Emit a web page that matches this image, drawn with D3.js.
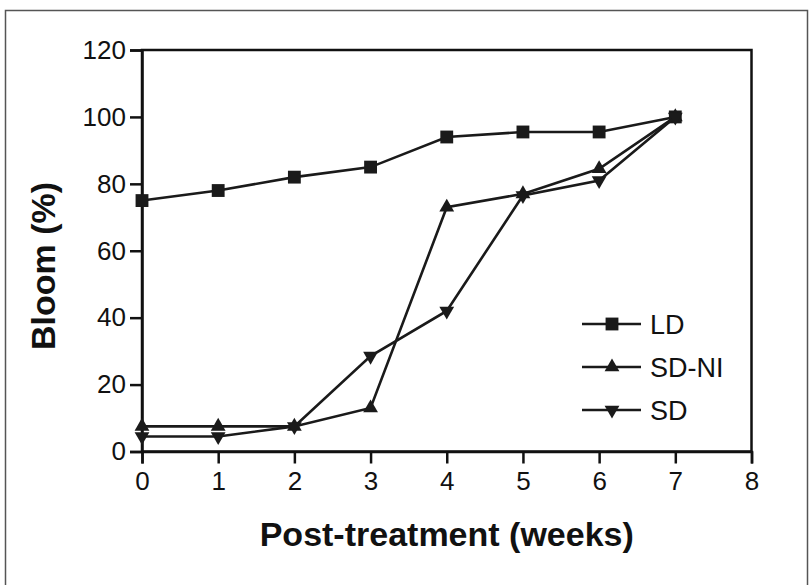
<!DOCTYPE html>
<html>
<head>
<meta charset="utf-8">
<script src="https://cdn.jsdelivr.net/npm/d3@7"></script>
<style>
  body { margin: 0; background: #fff; }
  svg { display: block; font-family: "Liberation Sans", Arial, sans-serif; }
</style>
</head>
<body>
<figure id="chart" style="margin:0"></figure>
<script>
// data
const weeks = [0, 1, 2, 3, 4, 5, 6, 7];
const ldValues = [75, 78, 82, 85, 94, 95.5, 95.5, 100];
const sdniValues = [7.5, 7.5, 7.5, 13, 73, 77, 84.5, 100];
const sdValues = [4.5, 4.5, 7.5, 28.5, 42, 76.5, 81, 100];
const seriesNames = ["LD", "SD-NI", "SD"];
const xTicks = [0, 1, 2, 3, 4, 5, 6, 7, 8];
const yTicks = [0, 20, 40, 60, 80, 100, 120];

const width = 812, height = 585;
const plotLeft = 142, plotRight = 751.5, plotTop = 50, plotBottom = 451.5;

const svg = d3.select("#chart").append("svg")
  .attr("width", width).attr("height", height);

// outer frame of the figure
svg.append("rect")
  .attr("x", 5.5).attr("y", 10.5)
  .attr("width", 802).attr("height", 580)
  .attr("fill", "none").attr("stroke", "#555").attr("stroke-width", 1.5);

const x = d3.scaleLinear().domain([0, 8]).range([plotLeft, plotRight]);
const y = d3.scaleLinear().domain([0, 120]).range([plotBottom, plotTop]);

// box around the plot
svg.append("rect")
  .attr("x", plotLeft).attr("y", plotTop)
  .attr("width", plotRight - plotLeft).attr("height", plotBottom - plotTop)
  .attr("fill", "none").attr("stroke", "#111").attr("stroke-width", 2.5);

const xAxis = svg.append("g")
  .attr("transform", "translate(0," + plotBottom + ")")
  .call(d3.axisBottom(x).tickValues(xTicks).tickSize(12).tickPadding(8).tickFormat(d3.format("d")));
const yAxis = svg.append("g")
  .attr("transform", "translate(" + plotLeft + ",0)")
  .call(d3.axisLeft(y).tickValues(yTicks).tickSize(12).tickPadding(4).tickFormat(d3.format("d")));

[xAxis, yAxis].forEach(g => {
  g.select(".domain").attr("stroke", "#111").attr("stroke-width", 2.5);
  g.selectAll(".tick line").attr("stroke", "#111").attr("stroke-width", 2.5);
  g.selectAll(".tick text")
    .attr("fill", "#111")
    .style("font-size", "26px")
    .style("font-family", "'Liberation Sans', Arial, sans-serif");
});

const series = [
  { name: seriesNames[0], values: ldValues, symbol: d3.symbolSquare, size: 165, rot: 0 },
  { name: seriesNames[1], values: sdniValues, symbol: d3.symbolTriangle, size: 95, rot: 0 },
  { name: seriesNames[2], values: sdValues, symbol: d3.symbolTriangle, size: 95, rot: 180 }
];

const line = d3.line()
  .x((d, i) => x(weeks[i]))
  .y(d => y(d));

series.forEach(s => {
  svg.append("path")
    .datum(s.values)
    .attr("d", line)
    .attr("fill", "none")
    .attr("stroke", "#1a1a1a")
    .attr("stroke-width", 2.6);

  svg.selectAll(null)
    .data(s.values)
    .enter()
    .append("path")
    .attr("d", d3.symbol().type(s.symbol).size(s.size))
    .attr("transform", (d, i) => "translate(" + x(weeks[i]) + "," + y(d) + ") rotate(" + s.rot + ")")
    .attr("fill", "#1a1a1a");
});

// legend
const legend = svg.append("g").attr("transform", "translate(582,324)");
series.forEach((s, i) => {
  const g = legend.append("g").attr("transform", "translate(0," + (i * 43) + ")");
  g.append("line")
    .attr("x1", 0).attr("x2", 59)
    .attr("stroke", "#1a1a1a").attr("stroke-width", 2.6);
  g.append("path")
    .attr("d", d3.symbol().type(s.symbol).size(s.size))
    .attr("transform", "translate(30,0) rotate(" + s.rot + ")")
    .attr("fill", "#1a1a1a");
  g.append("text")
    .attr("x", 68).attr("y", 10)
    .attr("fill", "#111")
    .style("font-size", "27px")
    .text(s.name);
});

// axis titles
svg.append("text")
  .attr("x", (plotLeft + plotRight) / 2).attr("y", 546)
  .attr("text-anchor", "middle")
  .attr("fill", "#111")
  .style("font-size", "34px").style("font-weight", "bold")
  .text("Post-treatment (weeks)");

svg.append("text")
  .attr("transform", "translate(55,266) rotate(-90)")
  .attr("text-anchor", "middle")
  .attr("fill", "#111")
  .style("font-size", "34px").style("font-weight", "bold")
  .text("Bloom (%)");
</script>
</body>
</html>
